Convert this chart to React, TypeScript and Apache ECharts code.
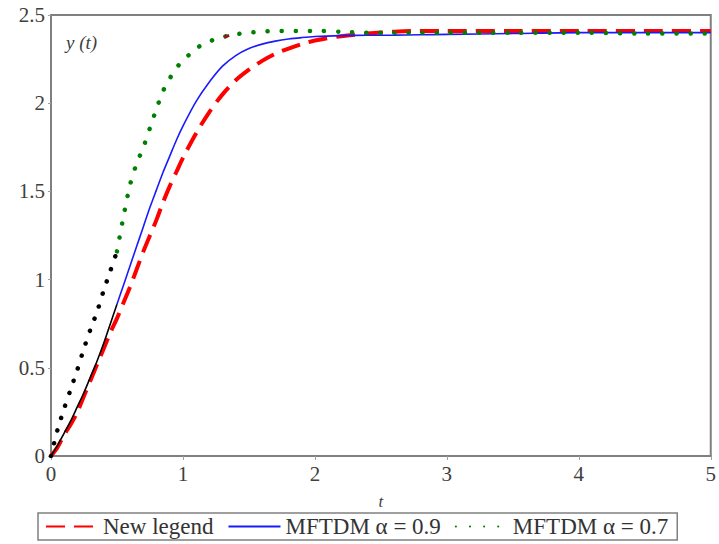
import React, { useEffect, useRef } from "react";
import * as echarts from "echarts";

// ---- data ----
const tEarly = [0, 0.05, 0.1, 0.15, 0.2, 0.25, 0.3, 0.35, 0.4, 0.45, 0.5];
const redEarly = [0, 0.05, 0.12, 0.18, 0.25, 0.34, 0.43, 0.52, 0.61, 0.7, 0.78];
const blackSolidEarly = [0, 0.06, 0.13, 0.2, 0.28, 0.36, 0.45, 0.54, 0.64, 0.75, 0.86];
const blackDottedEarly = [0, 0.15, 0.27, 0.38, 0.49, 0.61, 0.72, 0.82, 0.94, 1.05, 1.16];

const tLate = [0.5, 0.55, 0.6, 0.65, 0.7, 0.75, 0.8, 0.85, 0.9, 0.95, 1.0, 1.1, 1.2, 1.3, 1.4, 1.5, 1.6, 1.7, 1.8, 1.9, 2.0, 2.2, 2.4, 2.6, 2.8, 3.0, 3.5, 4.0, 4.5, 5.0];
const redLate = [0.78, 0.87, 0.96, 1.06, 1.16, 1.25, 1.34, 1.44, 1.53, 1.61, 1.69, 1.83, 1.95, 2.05, 2.13, 2.19, 2.24, 2.28, 2.31, 2.335, 2.355, 2.38, 2.395, 2.405, 2.41, 2.41, 2.41, 2.41, 2.41, 2.41];
const blueLate = [0.86, 0.97, 1.08, 1.19, 1.3, 1.41, 1.51, 1.61, 1.7, 1.79, 1.87, 2.01, 2.12, 2.21, 2.27, 2.31, 2.335, 2.352, 2.364, 2.372, 2.378, 2.383, 2.385, 2.386, 2.388, 2.39, 2.395, 2.4, 2.4, 2.4];
const greenLate = [1.16, 1.36, 1.54, 1.66, 1.75, 1.86, 1.97, 2.07, 2.14, 2.2, 2.24, 2.31, 2.35, 2.375, 2.39, 2.4, 2.405, 2.41, 2.41, 2.41, 2.41, 2.405, 2.4, 2.4, 2.4, 2.4, 2.4, 2.4, 2.395, 2.395];

const tMark = [1.31, 1.35];
const yMark = [2.373, 2.385];

const xTicks = [0, 1, 2, 3, 4, 5];
const yTicks = [0, 0.5, 1, 1.5, 2, 2.5];

const seriesNames = ["New legend", "MFTDM α = 0.9", "MFTDM α = 0.7"];

const zip = (xs: number[], ys: number[]) => xs.map((x, i) => [x, ys[i]]);

const FONT = '"Liberation Serif", "Times New Roman", serif';

export default function App() {
  const ref = useRef<HTMLDivElement>(null);
  useEffect(() => {
    document.body.style.margin = "0";
    if (!ref.current) return;
    const chart = echarts.init(ref.current, undefined, { renderer: "svg" });
    const redData = zip(tEarly, redEarly).concat(zip(tLate, redLate).slice(1));
    chart.setOption({
      animation: false,
      backgroundColor: "#ffffff",
      grid: {
        left: 51,
        right: 7,
        top: 15,
        bottom: 88,
        show: true,
        borderColor: "#808080",
        borderWidth: 2,
        containLabel: false,
      },
      xAxis: {
        type: "value",
        min: xTicks[0],
        max: xTicks[xTicks.length - 1],
        interval: 1,
        axisLine: { show: true, lineStyle: { color: "#808080", width: 2 } },
        axisTick: { show: true, length: 4, lineStyle: { color: "#a0a0a0" } },
        axisLabel: { fontFamily: FONT, fontSize: 21, color: "#404040", margin: 7 },
        splitLine: { show: false },
        name: "t",
        nameLocation: "middle",
        nameGap: 37,
        nameTextStyle: { fontFamily: FONT, fontSize: 17, fontStyle: "italic", color: "#404040" },
      },
      yAxis: {
        type: "value",
        min: yTicks[0],
        max: yTicks[yTicks.length - 1],
        interval: 0.5,
        axisLine: { show: true, lineStyle: { color: "#808080", width: 2 } },
        axisTick: { show: true, length: 3, lineStyle: { color: "#a0a0a0" } },
        axisLabel: { fontFamily: FONT, fontSize: 21, color: "#404040", margin: 6 },
        splitLine: { show: false },
      },
      graphic: [
        {
          type: "text",
          left: 66,
          top: 33,
          style: { text: "y (t)", font: `italic 19px ${FONT}`, fill: "#404040" },
        },
      ],
      legend: {
        data: seriesNames,
        left: 38,
        top: 513,
        orient: "horizontal",
        itemWidth: 52,
        itemHeight: 14,
        itemGap: 14,
        padding: [2, 9, 2, 7],
        borderColor: "#808080",
        borderWidth: 1.5,
        itemStyle: { opacity: 0 },
        textStyle: { fontFamily: FONT, fontSize: 23, color: "#333333" },
      },
      series: [
        {
          name: seriesNames[0],
          type: "line",
          data: redData,
          symbol: "none",
          smooth: 0.3,
          lineStyle: { color: "#ff0000", width: 4, type: [19, 9], cap: "butt" },
          itemStyle: { color: "#ff0000" },
          z: 2,
        },
        {
          name: seriesNames[1],
          type: "line",
          data: zip(tLate, blueLate),
          symbol: "none",
          smooth: 0.3,
          lineStyle: { color: "#1a1aff", width: 1.6 },
          itemStyle: { color: "#1a1aff" },
          z: 3,
        },
        {
          name: seriesNames[2],
          type: "line",
          data: zip(tLate, greenLate),
          symbol: "none",
          smooth: 0.3,
          lineStyle: { color: "#008000", width: 4.5, type: [0.1, 14], cap: "round" },
          itemStyle: { color: "#008000" },
          z: 4,
        },
        {
          name: "early-solid",
          type: "line",
          data: zip(tEarly, blackSolidEarly),
          symbol: "none",
          smooth: 0.3,
          lineStyle: { color: "#000000", width: 1.6 },
          z: 5,
        },
        {
          name: "early-dotted",
          type: "line",
          data: zip(tEarly, blackDottedEarly),
          symbol: "none",
          smooth: 0.3,
          lineStyle: { color: "#000000", width: 4.5, type: [0.1, 13], cap: "round" },
          z: 5,
        },
        {
          name: "mark",
          type: "line",
          data: zip(tMark, yMark),
          symbol: "none",
          lineStyle: { color: "#8b1a1a", width: 3 },
          z: 6,
        },
      ],
    });
    return () => chart.dispose();
  }, []);
  return <div ref={ref} style={{ width: 719, height: 544 }} />;
}
